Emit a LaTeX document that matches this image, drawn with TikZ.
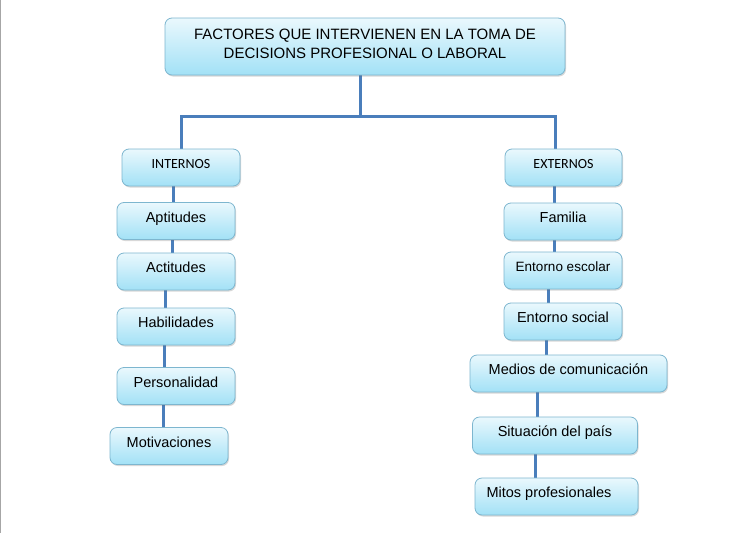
\documentclass[tikz,border=0pt]{standalone}
\usepackage{fontspec}
\setmainfont{Liberation Sans}
\newfontfamily\calib{Carlito}
\usetikzlibrary{shadows,backgrounds}
\definecolor{boxtop}{HTML}{EAF8FD}
\definecolor{boxbot}{HTML}{A2E1F6}
\definecolor{boxedge}{HTML}{7DB6CF}
\definecolor{connc}{HTML}{4A7EBB}
\tikzset{
  fbox/.style={draw=boxedge, line width=0.8pt, rounded corners=7pt,
    top color=boxtop, bottom color=boxbot, inner sep=0pt,
    minimum height=37pt, text height=10pt, text depth=8pt,
    font=\fontsize{14.5}{17}\selectfont,
    drop shadow={shadow xshift=1pt, shadow yshift=-1.5pt, opacity=0.25, fill=black!60}},
  conn/.style={draw=connc, line width=3pt}
}
\begin{document}
\begin{tikzpicture}[x=1pt,y=-1pt]
\useasboundingbox (0,0) rectangle (736,533);
% title
\node[fbox, minimum width=400pt, minimum height=57pt, text height=, text depth=, align=center,
  font=\fontsize{15}{19}\selectfont] (title) at (365,46.5)
  {FACTORES QUE INTERVIENEN EN LA TOMA DE\\DECISIONS PROFESIONAL O LABORAL\rule[-4.7pt]{0pt}{4.7pt}};
% left column
\node[fbox, minimum width=118pt, font=\calib\fontsize{14}{17}\selectfont] (int) at (181,167.5) {INTERNOS};
\node[fbox, minimum width=118pt] (apt) at (176,221) {Aptitudes};
\node[fbox, minimum width=118pt] (act) at (176,271.5) {Actitudes};
\node[fbox, minimum width=118pt] (hab) at (176,326.5) {Habilidades};
\node[fbox, minimum width=118pt] (per) at (176,386) {Personalidad};
\node[fbox, minimum width=118pt] (mot) at (169,446) {Motivaciones};
% right column
\node[fbox, minimum width=117pt, font=\calib\fontsize{14}{17}\selectfont] (ext) at (563.5,167.5) {EXTERNOS};
\node[fbox, minimum width=118pt] (fam) at (563,221.5) {Familia};
\node[fbox, minimum width=118pt, font=\fontsize{13.5}{16}\selectfont] (esc) at (563,270.5) {Entorno escolar};
\node[fbox, minimum width=118pt] (soc) at (563,321.5) {Entorno social};
\node[fbox, minimum width=197pt] (med) at (568.5,373.5) {Medios de comunicación};
\node[fbox, minimum width=165pt] (sit) at (555,435.5) {Situación del país};
\node[fbox, minimum width=163pt] (mit) at (556.5,496.5) {Mitos profesionales\kern15pt};
% connectors
\begin{scope}[on background layer]
\fill[white] (0,0) rectangle (736,533);
\draw[gray!70, line width=1.2pt] (0.6,0) -- (0.6,533);
\coordinate (jl) at (181,116);
\coordinate (jr) at (555,116);
\draw[conn] (title.south) ++(-5,0) coordinate (tc) -- (tc |- jl);
\draw[conn] (int.north) -- (jl) -- (jr) -- (jr |- ext.north);
\draw[conn] (int.south) ++(-8,0) coordinate (c1) -- (c1 |- apt.north);
\draw[conn] (apt.south) ++(-4,0) coordinate (c2) -- (c2 |- act.north);
\draw[conn] (act.south) ++(-11,0) coordinate (c3) -- (c3 |- hab.north);
\draw[conn] (hab.south) ++(-12,0) coordinate (c4) -- (c4 |- per.north);
\draw[conn] (per.south) ++(-13,0) coordinate (c5) -- (c5 |- mot.north);
\draw[conn] (ext.south) ++(-9.5,0) coordinate (d1) -- (d1 |- fam.north);
\draw[conn] (fam.south) ++(-9,0) coordinate (d2) -- (d2 |- esc.north);
\draw[conn] (esc.south) ++(-15,0) coordinate (d3) -- (d3 |- soc.north);
\draw[conn] (soc.south) ++(-17,0) coordinate (d4) -- (d4 |- med.north);
\draw[conn] (med.south) ++(-31.5,0) coordinate (d5) -- (d5 |- sit.north);
\draw[conn] (sit.south) ++(-20,0) coordinate (d6) -- (d6 |- mit.north);
\end{scope}
\end{tikzpicture}
\end{document}
